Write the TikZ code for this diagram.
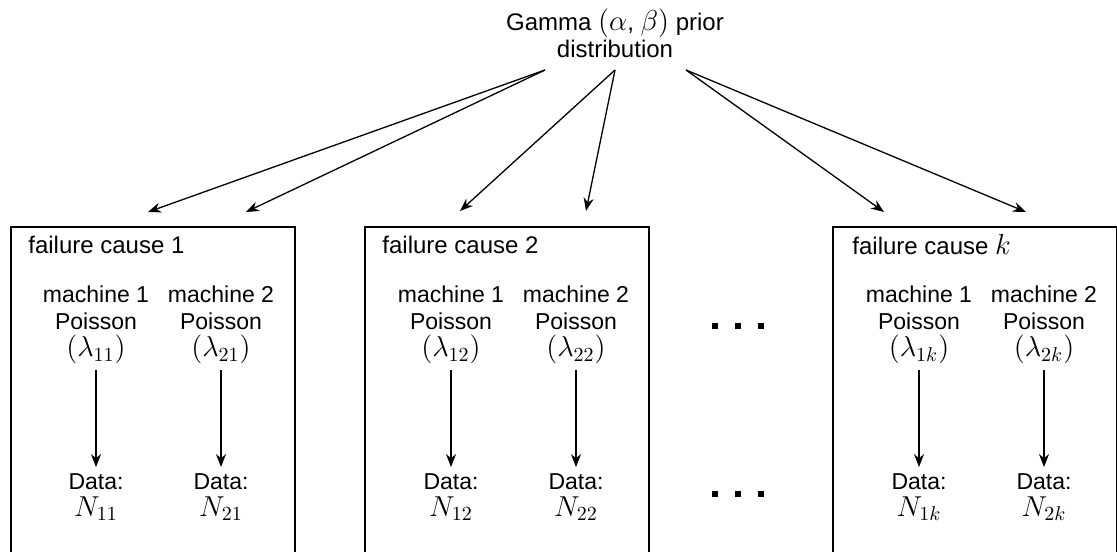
\documentclass[tikz,border=0pt]{standalone}
\usepackage{fontspec}
\setmainfont{Liberation Sans}
\usetikzlibrary{arrows.meta}

% math is set larger than the text
\newcommand{\mth}[1]{{\fontsize{14}{14}\selectfont$#1$}}

\tikzset{
  causebox/.style={draw, line width=0.8pt, anchor=north west, minimum width=142pt, minimum height=180pt, inner sep=0pt},
  causetitle/.style={anchor=west, inner sep=0pt, font=\fontsize{12}{13.5}\selectfont},
  rate/.style={align=center, inner sep=3pt},
  flow/.style={-{Stealth[length=6.5pt,width=5pt]}, line width=0.65pt},
}

\begin{document}
\begin{tikzpicture}[x=0.5pt, y=-0.5pt, font=\fontsize{11.5}{13.5}\selectfont]
        \useasboundingbox (0,0) rectangle (1117,551);
        % Prior distribution
        \node[align=center, font=\fontsize{12}{13.5}\selectfont] (prior) at (615,33) {Gamma \mth{(\alpha}, \mth{\beta)} prior\\distribution};
        \coordinate (g1) at (545,70);
        \coordinate (g2) at (615,70);
        \coordinate (g3) at (686,70);
        % Boxes of the failure causes
        \node[causebox] (cause1) at (10,226) {};
        \node[causebox] (cause2) at (364,226) {};
        \node[causebox] (cause3) at (832,226) {};
        \node[causetitle] (title1) at (28,245) {failure cause 1};
        \node[causetitle] (title2) at (382,245) {failure cause 2};
        \node[causetitle] (title3) at (852,245) {failure cause \mth{k}};
        % Arrows from the prior to the boxes
        \coordinate (t11) at (148,212);
        \coordinate (t21) at (246,212);
        \coordinate (t12) at (460,211);
        \coordinate (t22) at (586,211);
        \coordinate (t1k) at (884,212);
        \coordinate (t2k) at (1026,212);
        \draw[flow] (g1) -- (t11);
        \draw[flow] (g1) -- (t21);
        \draw[flow] (g2) -- (t12);
        \draw[flow] (g2) -- (t22);
        \draw[flow] (g3) -- (t1k);
        \draw[flow] (g3) -- (t2k);
        % Machines and their rates
        \node[rate] (lam11) at (96,325) {machine 1\\Poisson\\\mth{(\lambda_{11})}};
        \node[rate] (lam21) at (221,325) {machine 2\\Poisson\\\mth{(\lambda_{21})}};
        \node[rate] (lam12) at (451,325) {machine 1\\Poisson\\\mth{(\lambda_{12})}};
        \node[rate] (lam22) at (576,325) {machine 2\\Poisson\\\mth{(\lambda_{22})}};
        \node[rate] (lam1k) at (919,325) {machine 1\\Poisson\\\mth{(\lambda_{1k})}};
        \node[rate] (lam2k) at (1044,325) {machine 2\\Poisson\\\mth{(\lambda_{2k})}};
        % Data
        \node[rate] (data11) at (96,497) {Data:\\\mth{N_{11}}};
        \node[rate] (data21) at (221,497) {Data:\\\mth{N_{21}}};
        \node[rate] (data12) at (451,497) {Data:\\\mth{N_{12}}};
        \node[rate] (data22) at (576,497) {Data:\\\mth{N_{22}}};
        \node[rate] (data1k) at (919,497) {Data:\\\mth{N_{1k}}};
        \node[rate] (data2k) at (1044,497) {Data:\\\mth{N_{2k}}};
        \draw[flow] (lam11) -- (data11);
        \draw[flow] (lam21) -- (data21);
        \draw[flow] (lam12) -- (data12);
        \draw[flow] (lam22) -- (data22);
        \draw[flow] (lam1k) -- (data1k);
        \draw[flow] (lam2k) -- (data2k);
        % Dots between the boxes
        \fill[black] (712,323) rectangle (718,329);
        \fill[black] (735,323) rectangle (741,329);
        \fill[black] (758,323) rectangle (764,329);
        \fill[black] (712,491) rectangle (718,497);
        \fill[black] (735,491) rectangle (741,497);
        \fill[black] (758,491) rectangle (764,497);
    \end{tikzpicture}
\end{document}
